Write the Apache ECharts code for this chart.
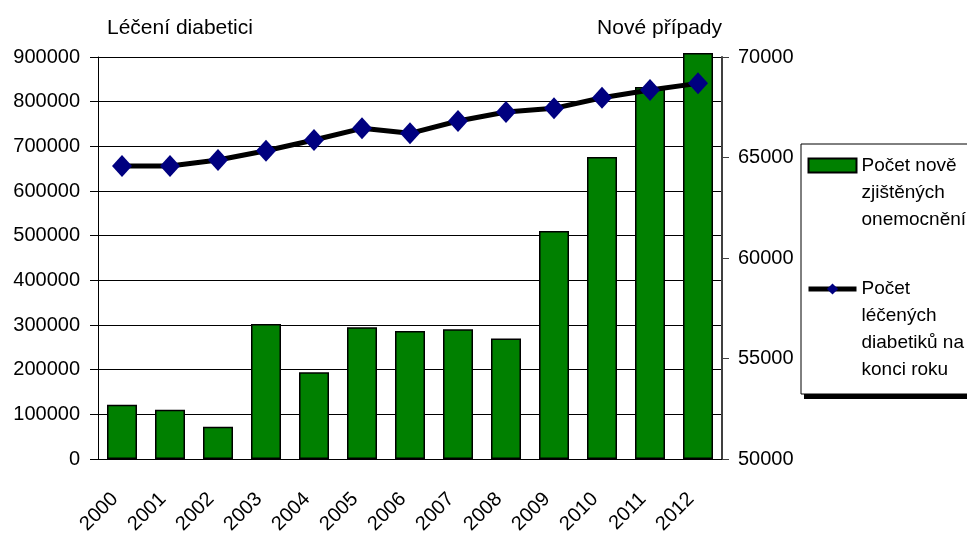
<!DOCTYPE html>
<html>
<head>
<meta charset="utf-8">
<script src="https://cdn.jsdelivr.net/npm/echarts@6/dist/echarts.min.js"></script>
<style>
html,body{margin:0;padding:0;background:#fff;}
#chart{width:967px;height:534px;}
</style>
</head>
<body>
<div id="chart"></div>
<script>
const years = ['2000','2001','2002','2003','2004','2005','2006','2007','2008','2009','2010','2011','2012'];
const newCases = [52700, 52450, 51600, 56720, 54310, 56550, 56370, 56450, 56000, 61340, 65020, 68510, 70200];
const treated = [655900, 656000, 669300, 690200, 714100, 740300, 729100, 756700, 776800, 785100, 808900, 826100, 841000];
const leftTitle = 'Léčení diabetici';
const rightTitle = 'Nové případy';
const barName = 'Počet nově zjištěných onemocnění';
const lineName = 'Počet léčených diabetiků na konci roku';
const barLegendLines = ['Počet nově', 'zjištěných', 'onemocnění'];
const lineLegendLines = ['Počet', 'léčených', 'diabetiků na', 'konci roku'];

const FONT = '"Liberation Sans", Arial, sans-serif';
const chart = echarts.init(document.getElementById('chart'), null, {renderer: 'canvas'});

function legendText(lines) {
  // leading blank lines so the icon sits beside the first text line
  return '\n'.repeat(lines.length - 1) + lines.join('\n');
}
function plain(v) { return String(v); }

chart.setOption({
  animation: false,
  backgroundColor: '#fff',
  textStyle: {fontFamily: FONT, color: '#000'},
  grid: {left: 98, right: 245, top: 57, bottom: 75, containLabel: false, outerBoundsMode: 'none'},
  graphic: [
    {type: 'rect', z: 1, shape: {x: 804, y: 149, width: 200, height: 250}, style: {fill: '#000'}},
    {type: 'rect', z: 2, shape: {x: 801, y: 144, width: 200, height: 250}, style: {fill: '#fff', stroke: '#000', lineWidth: 1}}
  ],
  legend: {
    orient: 'vertical',
    left: 806,
    top: 98,
    padding: 0,
    itemWidth: 48,
    itemHeight: 14,
    itemGap: -38.5,
    textGap: 3,
    z: 10,
    data: [
      {name: barName, icon: 'rect'},
      {name: lineName, lineStyle: {width: 5, color: '#000'}}
    ],
    formatter: function (name) {
      return name === barName ? legendText(barLegendLines) : legendText(lineLegendLines);
    },
    textStyle: {fontFamily: FONT, fontSize: 19, lineHeight: 27, color: '#000'}
  },
  xAxis: {
    type: 'category',
    data: years,
    axisLine: {show: true, lineStyle: {color: '#000', width: 1}},
    axisTick: {show: false},
    axisLabel: {rotate: 45, fontSize: 20, color: '#000', fontFamily: FONT, margin: 30, interval: 0, padding: [0, 10, 0, 0]}
  },
  yAxis: [
    {
      type: 'value',
      min: 0, max: 900000, interval: 100000,
      name: leftTitle,
      nameLocation: 'end',
      nameGap: 29,
      nameTextStyle: {fontSize: 21, color: '#000', fontFamily: FONT, align: 'left', verticalAlign: 'middle', padding: [0, 0, 0, 9]},
      axisLine: {show: true, lineStyle: {color: '#000', width: 1}},
      axisTick: {show: true, length: 8, lineStyle: {color: '#000'}},
      axisLabel: {fontSize: 20, color: '#000', fontFamily: FONT, margin: 18, formatter: plain},
      splitLine: {show: true, lineStyle: {color: '#000', width: 1}}
    },
    {
      type: 'value',
      position: 'right',
      min: 50000, max: 70000, interval: 5000,
      startValue: 50000,
      name: rightTitle,
      nameLocation: 'end',
      nameGap: 29,
      nameTextStyle: {fontSize: 21, color: '#000', fontFamily: FONT, align: 'right', verticalAlign: 'middle'},
      axisLine: {show: true, lineStyle: {color: '#404040', width: 2}},
      axisTick: {show: true, length: 7, lineStyle: {color: '#404040'}},
      axisLabel: {fontSize: 20, color: '#000', fontFamily: FONT, margin: 16, formatter: plain},
      splitLine: {show: false}
    }
  ],
  series: [
    {
      name: barName,
      type: 'bar',
      yAxisIndex: 1,
      data: newCases,
      barWidth: 30,
      clip: false,
      itemStyle: {color: '#008000', borderColor: '#000', borderWidth: 1.5}
    },
    {
      name: lineName,
      type: 'line',
      yAxisIndex: 0,
      data: treated,
      symbol: 'diamond',
      symbolSize: [20, 22],
      z: 5,
      lineStyle: {color: '#000', width: 5},
      itemStyle: {color: '#000080'}
    }
  ]
});
</script>
</body>
</html>
